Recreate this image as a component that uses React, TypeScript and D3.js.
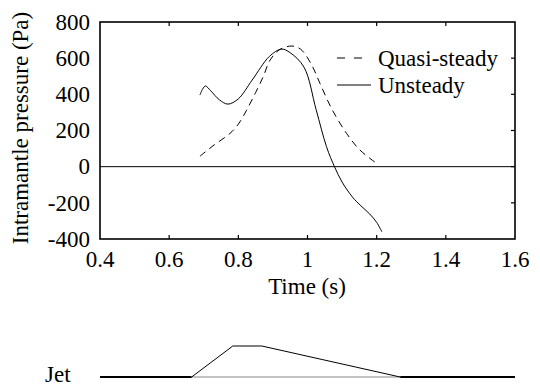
import React from "react";
import * as d3 from "d3";

const xTicks = [0.4, 0.6, 0.8, 1, 1.2, 1.4, 1.6];
const yTicks = [-400, -200, 0, 200, 400, 600, 800];

const unsteadyT = [0.689, 0.697, 0.705, 0.72, 0.745, 0.77, 0.80, 0.84, 0.89, 0.925, 0.95, 0.99, 1.025, 1.055, 1.078, 1.10, 1.13, 1.152, 1.18, 1.20, 1.215];
const unsteadyP = [396, 430, 446, 420, 370, 346, 375, 479, 610, 650, 630, 550, 315, 110, 0, -85, -168, -212, -262, -308, -360];

const quasiT = [0.689, 0.73, 0.776, 0.80, 0.824, 0.85, 0.872, 0.892, 0.92, 0.955, 0.98, 1.01, 1.036, 1.07, 1.113, 1.15, 1.2];
const quasiP = [58, 120, 184, 235, 313, 410, 498, 590, 648, 667, 650, 570, 461, 320, 184, 95, 18];

const jetT = [0.665, 0.784, 0.868, 1.268];
const jetLevel = [0, 1, 1, 0];

const legendLabels = ["Quasi-steady", "Unsteady"];

const FONT = "'Liberation Serif', serif";
const ts: React.CSSProperties = { fontFamily: FONT, fontSize: "23px" };

export default function App() {
  const W = 540, H = 387;
  const x = d3.scaleLinear().domain([0.4, 1.6]).range([100, 515]);
  const y = d3.scaleLinear().domain([-400, 800]).range([239, 22]);
  const jy = d3.scaleLinear().domain([0, 1]).range([377, 346]);

  const line = d3.line<[number, number]>().x(d => x(d[0])).y(d => y(d[1])).curve(d3.curveCatmullRom.alpha(0.5));
  const uPath = line(unsteadyT.map((t, i) => [t, unsteadyP[i]]));
  const qPath = line(quasiT.map((t, i) => [t, quasiP[i]]));
  const jetPath = d3.line<[number, number]>().x(d => x(d[0])).y(d => jy(d[1]))(jetT.map((t, i) => [t, jetLevel[i]]));

  const [x0, x1] = x.range();
  const [yb, yt] = y.range();
  const tl = 4;

  return (
    <svg width={W} height={H} style={{ position: "absolute", left: 0, top: 0, background: "#fff", fontFamily: FONT }}>
      <rect x={0} y={0} width={W} height={H} fill="#fff" />
      <line x1={x0} x2={x1} y1={y(0)} y2={y(0)} stroke="#000" strokeWidth={1} />
      <path d={qPath || ""} fill="none" stroke="#000" strokeWidth={1} strokeDasharray="7,5" />
      <path d={uPath || ""} fill="none" stroke="#000" strokeWidth={1} />
      <rect x={x0} y={yt} width={x1 - x0} height={yb - yt} fill="none" stroke="#000" strokeWidth={1.6} />
      {xTicks.slice(1, -1).map(t => (
        <g key={"xt" + t}>
          <line x1={x(t)} x2={x(t)} y1={yb} y2={yb - tl} stroke="#000" strokeWidth={1.2} />
          <line x1={x(t)} x2={x(t)} y1={yt} y2={yt + tl} stroke="#000" strokeWidth={1.2} />
        </g>
      ))}
      {yTicks.slice(1, -1).map(t => (
        <line key={"yt" + t} x1={x1} x2={x1 - tl} y1={y(t)} y2={y(t)} stroke="#000" strokeWidth={1.2} />
      ))}
      {xTicks.map(t => (
        <text key={"xl" + t} x={x(t)} y={267} textAnchor="middle" style={ts} fill="#000">{String(t)}</text>
      ))}
      {yTicks.map(t => (
        <text key={"yl" + t} x={90} y={y(t) + 7.8} textAnchor="end" style={ts} fill="#000">{String(t)}</text>
      ))}
      <text x={307} y={294} textAnchor="middle" style={ts} fill="#000">Time (s)</text>
      <text transform={`translate(28,128) rotate(-90)`} textAnchor="middle" style={ts} fill="#000">Intramantle pressure (Pa)</text>
      <line x1={337} x2={370} y1={58} y2={58} stroke="#000" strokeWidth={1} strokeDasharray="8,9" />
      <text x={378} y={65.8} style={ts} fill="#000">{legendLabels[0]}</text>
      <line x1={337} x2={371} y1={85} y2={85} stroke="#000" strokeWidth={1} />
      <text x={378} y={92.8} style={ts} fill="#000">{legendLabels[1]}</text>
      <line x1={x(jetT[0])} x2={x(jetT[3])} y1={jy(0)} y2={jy(0)} stroke="#888" strokeWidth={1.2} />
      <line x1={x0} x2={x(jetT[0])} y1={jy(0)} y2={jy(0)} stroke="#000" strokeWidth={1.8} />
      <line x1={x(jetT[3])} x2={x1} y1={jy(0)} y2={jy(0)} stroke="#000" strokeWidth={1.8} />
      <path d={jetPath || ""} fill="none" stroke="#000" strokeWidth={1} />
      <text x={45} y={382} style={ts} fill="#000">Jet</text>
    </svg>
  );
}
